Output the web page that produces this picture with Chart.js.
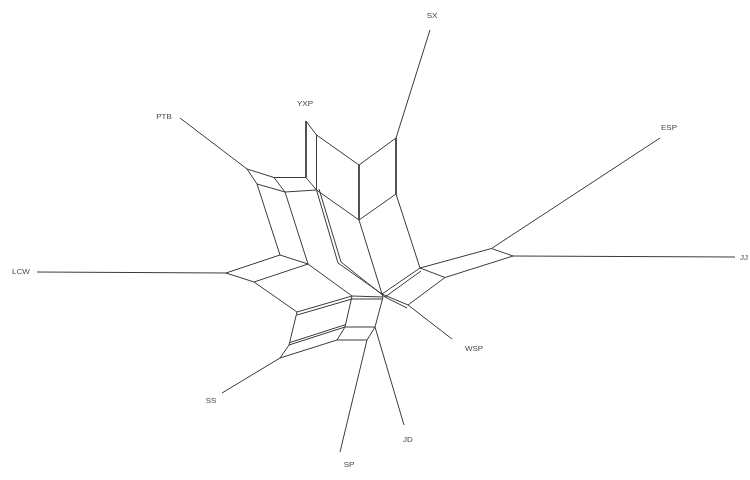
<!DOCTYPE html>
<html>
<head>
<meta charset="utf-8">
<script src="https://cdn.jsdelivr.net/npm/chart.js@4.4.0/dist/chart.umd.min.js"></script>
<style>
  body { margin: 0; background: #fff; }
  #wrap { width: 750px; height: 480px; }
</style>
</head>
<body>
<div id="wrap"><canvas id="net"></canvas></div>
<script>
// splits network: nodes (x,y in picture units) and edges between them
var nodeNames = ['SXe','S0','S1','S2','S3','Y0','Y1','PTBe','P1','P2','P3','Q1','Q2','Q3','Q3b',
  'M','Mb','C','Cb','L1','L2','L3','L4','LCWe','T1','T1b','T2','T2b','T3','SSe',
  'B1','B1b','B2','B2b','B3','B3b','B4','B5','B6','JDe','SPe',
  'R0','R0b','R1','R2','R3','ESPe','JJe','W','Wb','WSPe'];
var nodeX = [430,396,359,396,359,306,316.5,180,247,274,306,257,285,316.5,319,
  338,341,382,385,226,280,254,308,37,297,297,289,290,280,222,
  352,352,383,383,345,346,375,337,367,404,340,
  420,421,491.5,445,513,660,735,408,407,452];
var nodeY = [30,138,165,194,220,121,135,118,169,177.5,177.5,184,192,190,189,
  263,262,294,297,273,255,282,264,272,312,315,345,342.5,358,393,
  296,299,297,299,327,324.5,327,340,340,425,452,
  268,271,248.5,277.5,256,138,257,305,308,339];
var edges = [
  ['SXe','S0'],['S0','S1'],['S0','S2'],['S1','S3'],['S2','S3'],['Y1','S1'],['Q3','S3'],
  ['Y0','Y1'],['Y0','P3'],['Y1','Q3'],
  ['PTBe','P1'],['P1','P2'],['P2','P3'],['P1','Q1'],['P2','Q2'],['P3','Q3'],['Q1','Q2'],['Q2','Q3'],
  ['Q1','L2'],['Q2','L4'],['LCWe','L1'],['L1','L2'],['L1','L3'],['L2','L4'],['L3','L4'],
  ['Q3','M'],['M','C'],['Q3b','Mb'],['Mb','Cb'],['S3','C'],['S2','R0'],
  ['R0','R1'],['R0','R2'],['R1','R3'],['R2','R3'],['R1','ESPe'],['R3','JJe'],['R0','C'],['R0b','Cb'],
  ['R2','W'],['W','WSPe'],['W','C'],['Wb','Cb'],
  ['L4','B1'],['L3','T1'],['T1','B1'],['T1b','B1b'],['T1','T2'],['T2','B3'],['T2b','B3b'],['T2','T3'],
  ['T3','SSe'],['T3','B5'],['B5','B3'],['B5','B6'],['B3','B4'],['B1','B3'],['B1','B2'],['B1b','B2b'],
  ['B2','C'],['B4','B2'],['B6','B4'],['B4','JDe'],['B6','SPe']
];
var leafLabels = ['SX','YXP','PTB','ESP','JJ','LCW','WSP','SS','JD','SP'];
var leafLabelX = [432,305,164,669,744,21,474,211,408,349];
var leafLabelY = [16,104,117,128,258,272,349,401,440,465];

function nodeAt(name) {
  var i = nodeNames.indexOf(name);
  return { x: nodeX[i], y: nodeY[i] };
}

var datasets = edges.map(function (e) {
  return {
    data: [nodeAt(e[0]), nodeAt(e[1])],
    showLine: true,
    borderColor: '#3a3a3a',
    borderWidth: 1,
    pointRadius: 0,
    pointHoverRadius: 0,
    fill: false
  };
});

var labelPlugin = {
  id: 'leafLabels',
  afterDatasetsDraw: function (chart) {
    var ctx = chart.ctx;
    var xs = chart.scales.x, ys = chart.scales.y;
    ctx.save();
    ctx.font = '8px "Liberation Sans", Arial, sans-serif';
    ctx.fillStyle = '#444';
    ctx.textAlign = 'center';
    ctx.textBaseline = 'middle';
    for (var i = 0; i < leafLabels.length; i++) {
      ctx.fillText(leafLabels[i], xs.getPixelForValue(leafLabelX[i]), ys.getPixelForValue(leafLabelY[i]));
    }
    ctx.restore();
  }
};

new Chart(document.getElementById('net'), {
  type: 'scatter',
  data: { datasets: datasets },
  options: {
    responsive: true,
    maintainAspectRatio: false,
    animation: false,
    layout: { padding: 0 },
    plugins: { legend: { display: false }, tooltip: { enabled: false } },
    scales: {
      x: { type: 'linear', min: 0, max: 750, display: false },
      y: { type: 'linear', min: 0, max: 480, reverse: true, display: false }
    }
  },
  plugins: [labelPlugin]
});
</script>
</body>
</html>
